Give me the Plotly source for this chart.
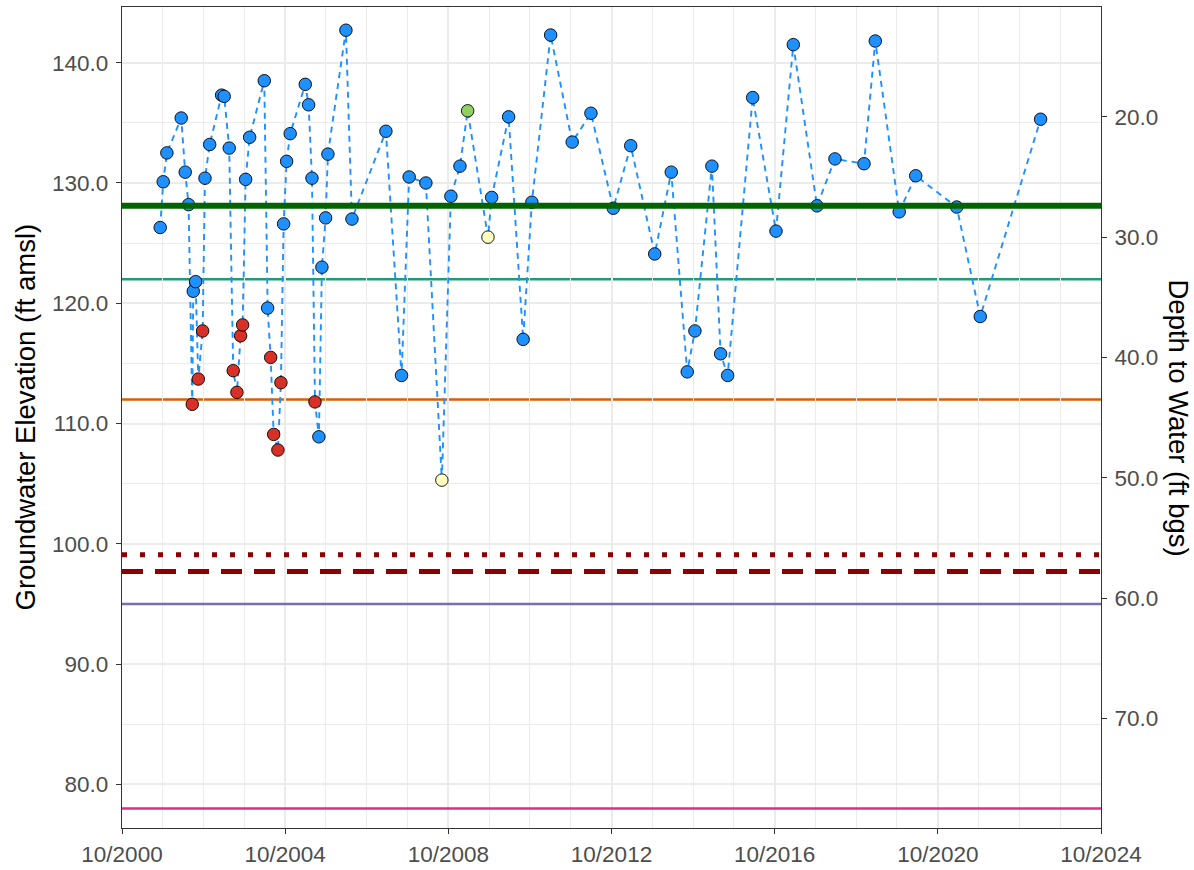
import plotly.graph_objects as go

# ---------------- data ----------------
dates = [
    "2001-09-08", "2001-10-05", "2001-11-07", "2002-03-15", "2002-04-20", "2002-05-20",
    "2002-06-22", "2002-07-01", "2002-07-22", "2002-08-15", "2002-09-23", "2002-10-14",
    "2002-11-25", "2003-03-12", "2003-04-04", "2003-05-19", "2003-06-24", "2003-07-27",
    "2003-08-29", "2003-09-16", "2003-10-13", "2003-11-18", "2004-03-28", "2004-04-27",
    "2004-05-24", "2004-06-20", "2004-07-28", "2004-08-24", "2004-09-17", "2004-10-14",
    "2004-11-15", "2005-03-30", "2005-04-29", "2005-05-29", "2005-06-25", "2005-07-30",
    "2005-08-26", "2005-09-28", "2005-10-19", "2006-03-29", "2006-05-22", "2007-03-22",
    "2007-08-09", "2007-10-16", "2008-03-14", "2008-08-04", "2008-10-24", "2009-01-13",
    "2009-03-23", "2009-09-21", "2009-10-24", "2010-03-25", "2010-08-02", "2010-10-19",
    "2011-04-05", "2011-10-15", "2012-03-31", "2012-10-17", "2013-03-22", "2013-10-23",
    "2014-03-20", "2014-08-10", "2014-10-18", "2015-03-19", "2015-06-05", "2015-08-07",
    "2016-03-18", "2016-10-13", "2017-03-17", "2017-10-15", "2018-03-25", "2018-12-10",
    "2019-03-21", "2019-10-21", "2020-03-17", "2021-03-19", "2021-10-16", "2023-04-09",
]
elevation = [
    126.3, 130.1, 132.5, 135.4, 130.9, 128.2,
    111.6, 121.0, 121.8, 113.7, 117.7, 130.4,
    133.2, 137.3, 137.2, 132.9, 114.4, 112.6,
    117.3, 118.2, 130.3, 133.8, 138.5, 119.6,
    115.5, 109.1, 107.8, 113.4, 126.6, 131.8,
    134.1, 138.2, 136.5, 130.4, 111.8, 108.9,
    123.0, 127.1, 132.4, 142.7, 127.0, 134.3,
    114.0, 130.5, 130.0, 105.3, 128.9, 131.4,
    136.0, 125.5, 128.8, 135.5, 117.0, 128.4,
    142.3, 133.4, 135.8, 127.9, 133.1, 124.1,
    130.9, 114.3, 117.7, 131.4, 115.8, 114.0,
    137.1, 126.0, 141.5, 128.1, 132.0, 131.6,
    141.8, 127.6, 130.6, 128.0, 118.9, 135.3,
]
status = [
    "ok", "ok", "ok", "ok", "ok", "ok",
    "low", "ok", "ok", "low", "low", "ok",
    "ok", "ok", "ok", "ok", "low", "low",
    "low", "low", "ok", "ok", "ok", "ok",
    "low", "low", "low", "low", "ok", "ok",
    "ok", "ok", "ok", "ok", "low", "ok",
    "ok", "ok", "ok", "ok", "ok", "ok",
    "ok", "ok", "ok", "flag", "ok", "ok",
    "high", "flag", "ok", "ok", "ok", "ok",
    "ok", "ok", "ok", "ok", "ok", "ok",
    "ok", "ok", "ok", "ok", "ok", "ok",
    "ok", "ok", "ok", "ok", "ok", "ok",
    "ok", "ok", "ok", "ok", "ok", "ok",
]
status_colors = {"ok": "#1E90FF", "low": "#D73027", "high": "#91CF60", "flag": "#FFFFBF"}

ground_surface = 155.5  # depth = ground_surface - elevation

# threshold lines (elevation, color, width, dash, layer)
threshold_values = [122.0, 112.0, 99.1, 97.7, 95.0, 78.0, 128.1]
threshold_colors = ["#1B9E77", "#D95F02", "#8B0000", "#8B0000", "#7570B3", "#E7298A", "#006400"]
threshold_widths = [2.4, 2.4, 5, 5, 2.4, 2.4, 6]
threshold_dash = ["solid", "solid", "5px,13px", "21px,12px", "solid", "solid", "solid"]
threshold_layer = ["between", "between", "above", "above", "above", "above", "above"]

x_range = ["2000-10-01", "2024-10-01"]
y_range = [76.38, 144.63]
left_ticks = [80, 90, 100, 110, 120, 130, 140]
right_ticks = [20, 30, 40, 50, 60, 70]

# ---------------- figure ----------------
fig = go.Figure()

fig.add_trace(go.Scatter(
    x=dates, y=elevation, mode="lines",
    line=dict(color="#1E90FF", width=1.9, dash="6px,5px"),
    hoverinfo="skip", showlegend=False,
))
fig.add_trace(go.Scatter(
    x=dates, y=elevation, mode="markers",
    marker=dict(size=12.5, color=[status_colors[s] for s in status],
                line=dict(color="black", width=0.9)),
    showlegend=False,
))
# invisible trace to bind the right axis
fig.add_trace(go.Scatter(
    x=dates[:1], y=[ground_surface - elevation[0]], yaxis="y2",
    mode="markers", marker=dict(opacity=0), hoverinfo="skip", showlegend=False,
))

for v, c, w, d, lay in zip(threshold_values, threshold_colors, threshold_widths,
                           threshold_dash, threshold_layer):
    fig.add_shape(type="line", xref="paper", x0=0, x1=1, yref="y", y0=v, y1=v,
                  line=dict(color=c, width=w, dash=d), layer=lay)

tick_font = dict(family="Liberation Sans, Arial, sans-serif", size=22.5, color="#4D4D4D")
title_font = dict(family="Liberation Sans, Arial, sans-serif", size=27.5, color="black")

fig.update_layout(
    width=1194, height=870,
    margin=dict(l=122, r=93, t=7, b=42),
    paper_bgcolor="white", plot_bgcolor="white",
    showlegend=False,
    xaxis=dict(
        type="date", range=x_range, automargin=False,
        tick0="2000-10-01", dtick="M48", tickformat="%m/%Y",
        ticks="outside", ticklen=5, tickwidth=1.2, tickcolor="#333333",
        tickfont=tick_font, ticklabelstandoff=1,
        showgrid=True, gridcolor="#EBEBEB", gridwidth=1.7,
        minor=dict(tick0="2000-10-01", dtick="M12", showgrid=True,
                   gridcolor="#EBEBEB", gridwidth=0.8, ticks=""),
        showline=True, linecolor="#333333", linewidth=1.2, mirror=True,
        zeroline=False,
    ),
    yaxis=dict(
        range=y_range, tickvals=left_ticks, automargin=False,
        ticktext=[f"{v:.1f}" for v in left_ticks],
        ticks="outside", ticklen=5, tickwidth=1.2, tickcolor="#333333",
        tickfont=tick_font, ticklabelstandoff=3,
        showgrid=True, gridcolor="#EBEBEB", gridwidth=1.7,
        minor=dict(dtick=5, tick0=0, showgrid=True, gridcolor="#EBEBEB",
                   gridwidth=0.8, ticks=""),
        showline=True, linecolor="#333333", linewidth=1.2, mirror=True,
        zeroline=False,
    ),
    yaxis2=dict(
        overlaying="y", side="right", automargin=False,
        range=[ground_surface - y_range[0], ground_surface - y_range[1]],
        tickvals=right_ticks, ticktext=[f"{v:.1f}" for v in right_ticks],
        ticks="outside", ticklen=5, tickwidth=1.2, tickcolor="#333333",
        tickfont=tick_font, ticklabelstandoff=3,
        showgrid=False, zeroline=False, showline=False,
    ),
    annotations=[
        dict(text="Groundwater Elevation (ft amsl)", xref="paper", yref="paper",
             x=(25 - 122) / 979, y=0.5, textangle=-90, showarrow=False,
             font=title_font, xanchor="center", yanchor="middle"),
        dict(text="Depth to Water (ft bgs)", xref="paper", yref="paper",
             x=(1178 - 122) / 979, y=0.5, textangle=90, showarrow=False,
             font=title_font, xanchor="center", yanchor="middle"),
    ],
)

fig.write_html("out.html")
